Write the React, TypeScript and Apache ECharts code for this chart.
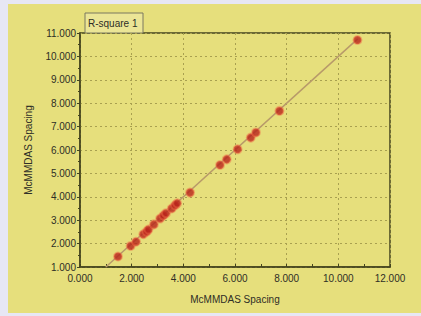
import React, { useEffect, useRef } from "react";
import * as echarts from "echarts";

const xValues = [1470, 1960, 2170, 2450, 2580, 2650, 2860, 3100, 3230, 3330, 3550, 3680, 3760, 4260, 5420, 5680, 6100, 6610, 6810, 7720, 10740];
const yValues = [1450, 1900, 2080, 2400, 2510, 2600, 2820, 3070, 3200, 3300, 3500, 3640, 3720, 4180, 5360, 5600, 6030, 6530, 6750, 7670, 10700];
const fitLine = [[1000, 1000], [10750, 10750]];
const legendLabel = "R-square 1";
const xName = "McMMDAS Spacing";
const yName = "McMMDAS Spacing";

const fmt = (v: number) => (v / 1000).toFixed(3);

export default function App() {
  const ref = useRef<HTMLDivElement>(null);
  useEffect(() => {
    const chart = echarts.init(ref.current!, null, { renderer: "svg" });
    const textColor = "#2e2e26";
    const gridColor = "#a8a050";
    chart.setOption({
      animation: false,
      backgroundColor: "#e7e7f4",
      textStyle: { fontFamily: "Liberation Sans, Arial, sans-serif" },
      graphic: [
        {
          type: "rect",
          z: -10,
          silent: true,
          shape: { x: 8, y: 4, width: 413, height: 309 },
          style: { fill: "#e6df7c" },
        },
        {
          type: "group",
          z: 100,
          children: [
            {
              type: "rect",
              shape: { x: 85, y: 13, width: 58, height: 20 },
              style: { fill: "#ebe596", stroke: "#7a7860", lineWidth: 1 },
            },
            {
              type: "text",
              x: 88,
              y: 23,
              style: {
                text: legendLabel,
                fill: textColor,
                fontSize: 10,
                fontFamily: "Liberation Sans, Arial, sans-serif",
                verticalAlign: "middle",
              },
            },
          ],
        },
      ],
      grid: {
        left: 80,
        right: 31,
        top: 33,
        bottom: 49,
        show: true,
        borderColor: "#44441e",
        borderWidth: 1.5,
        backgroundColor: "transparent",
      },
      xAxis: {
        type: "value",
        min: 0,
        max: 12000,
        interval: 2000,
        name: xName,
        nameLocation: "middle",
        nameGap: 27,
        nameTextStyle: { color: textColor, fontSize: 10 },
        axisLine: { show: true, lineStyle: { color: "#44441e", width: 1.5 } },
        axisTick: { show: true, inside: true, length: 3, lineStyle: { color: "#44441e" } },
        minorTick: { show: true, splitNumber: 2, length: 3, lineStyle: { color: "#44441e" } },
        axisLabel: { color: textColor, fontSize: 10, margin: 6, formatter: fmt },
        splitLine: { show: true, lineStyle: { color: gridColor, type: [2, 3], width: 1 } },
      },
      yAxis: {
        type: "value",
        min: 1000,
        max: 11000,
        interval: 1000,
        name: yName,
        nameLocation: "middle",
        nameGap: 47,
        nameTextStyle: { color: textColor, fontSize: 10 },
        axisLine: { show: true, lineStyle: { color: "#44441e", width: 1.5 } },
        axisTick: { show: true, length: 3, lineStyle: { color: "#44441e" } },
        minorTick: { show: true, splitNumber: 2, length: 2, lineStyle: { color: "#44441e" } },
        axisLabel: { color: textColor, fontSize: 10, margin: 4, formatter: fmt },
        splitLine: { show: true, lineStyle: { color: gridColor, type: [2, 3], width: 1 } },
      },
      series: [
        {
          type: "line",
          data: fitLine,
          symbol: "none",
          lineStyle: { color: "#b89a6a", width: 1.5 },
          z: 2,
        },
        {
          type: "scatter",
          data: xValues.map((x, i) => [x, yValues[i]]),
          symbol: "circle",
          symbolSize: 8,
          itemStyle: {
            color: "#b8221a",
            borderColor: "rgba(240,110,70,0.55)",
            borderWidth: 2,
          },
          z: 3,
        },
      ],
    });
    return () => chart.dispose();
  }, []);
  return (
    <div
      ref={ref}
      style={{ position: "fixed", left: 0, top: 0, width: 421, height: 316 }}
    />
  );
}
